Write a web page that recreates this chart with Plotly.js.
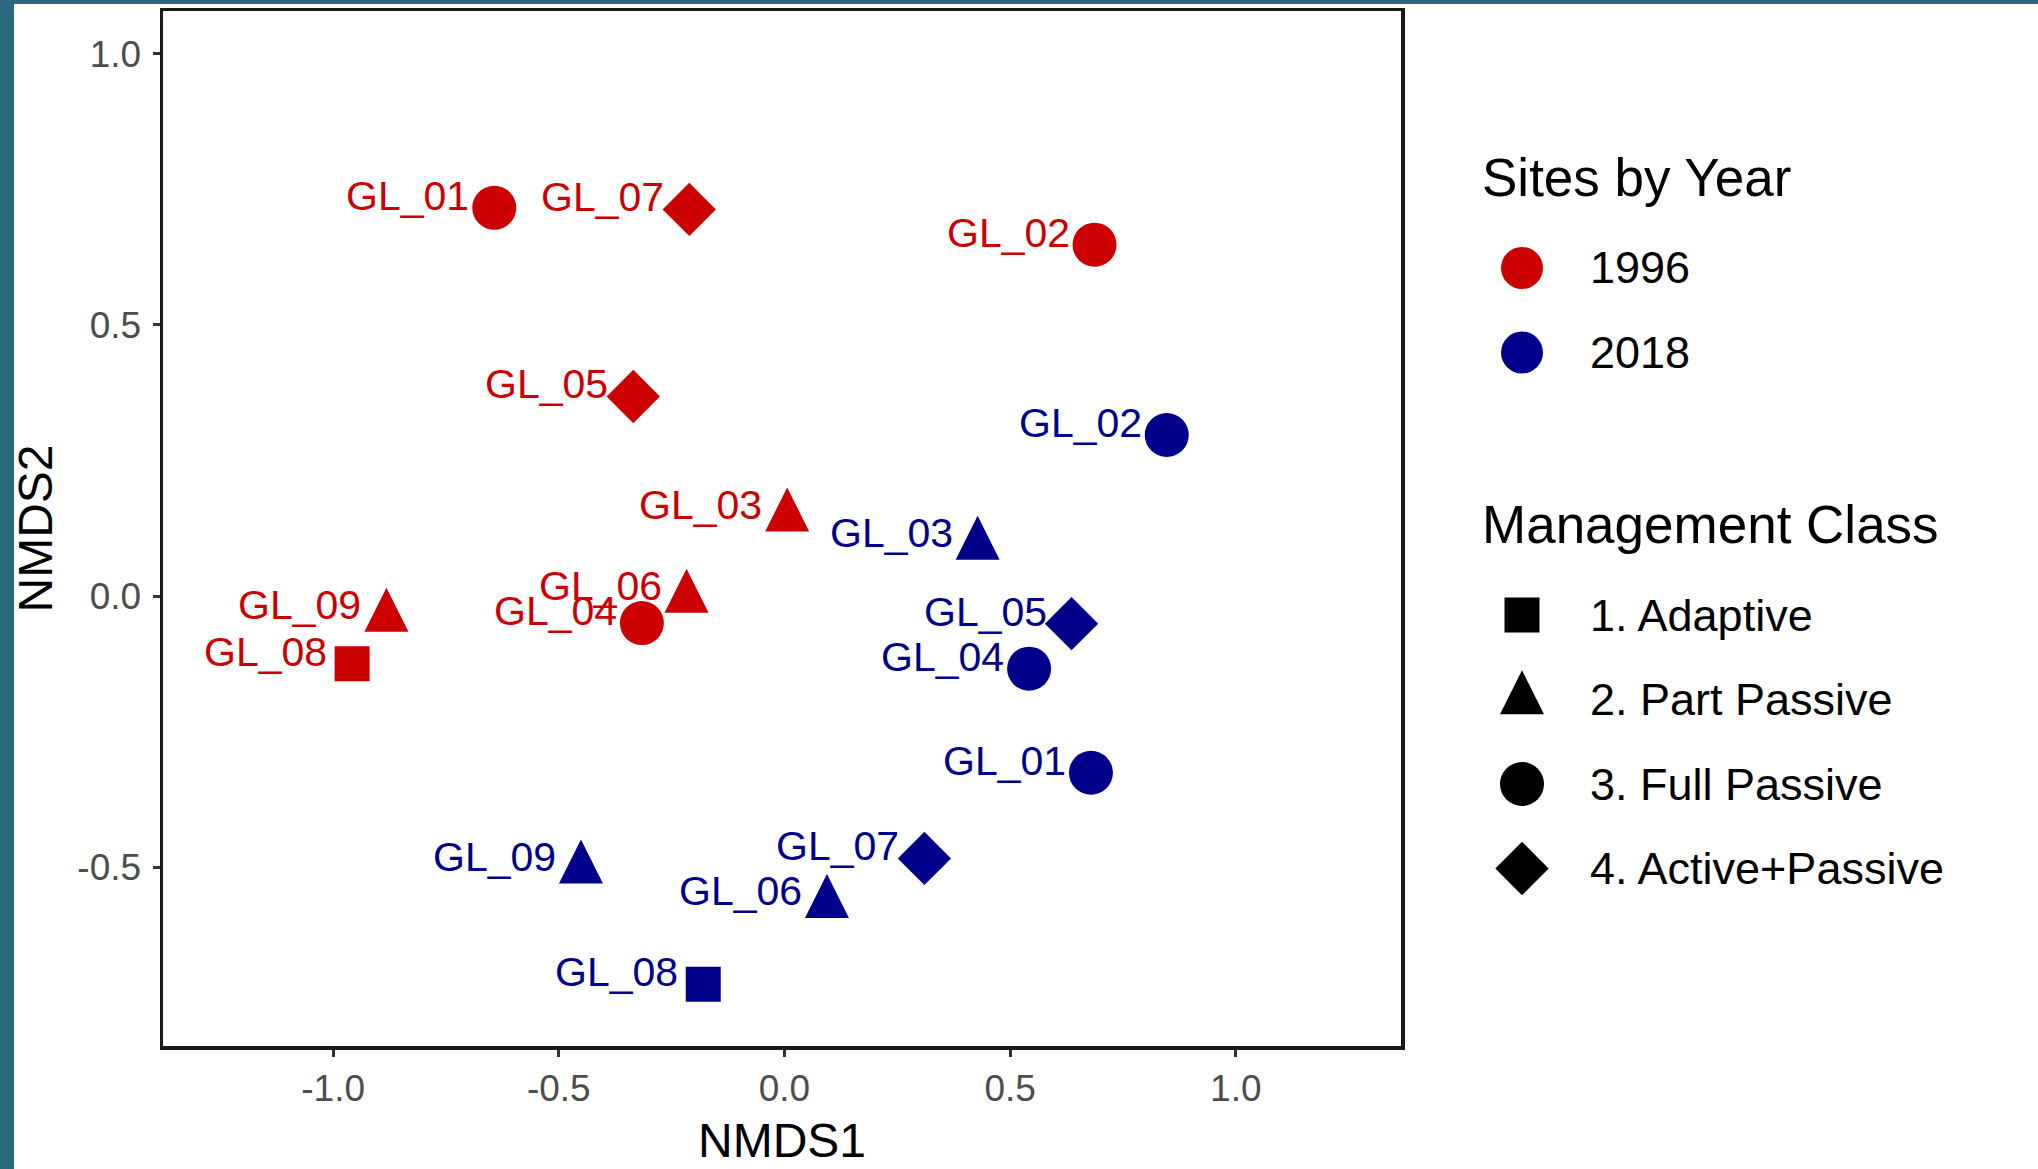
<!DOCTYPE html>
<html>
<head>
<meta charset="utf-8">
<script src="https://cdn.plot.ly/plotly-3.0.1.min.js"></script>
<style>
  html, body { margin: 0; padding: 0; background: #ffffff; }
  #chart { width: 2038px; height: 1169px; }
</style>
</head>
<body>
<div id="chart"></div>
<script>
// ---------------- DATA ----------------
const sites = ['GL_01', 'GL_02', 'GL_03', 'GL_04', 'GL_05', 'GL_06', 'GL_07', 'GL_08', 'GL_09'];
// management class per site (1 Adaptive, 2 Part Passive, 3 Full Passive, 4 Active+Passive)
const managementClass = [3, 3, 2, 3, 4, 2, 4, 1, 2];

const years = ['1996', '2018'];
const nmds1_1996 = [-0.643, 0.687, 0.006, -0.316, -0.335, -0.217, -0.211, -0.958, -0.882];
const nmds2_1996 = [0.716, 0.648, 0.146, -0.050, 0.368, -0.004, 0.713, -0.125, -0.039];
const nmds1_2018 = [0.679, 0.847, 0.428, 0.542, 0.636, 0.094, 0.310, -0.180, -0.451];
const nmds2_2018 = [-0.326, 0.297, 0.094, -0.134, -0.051, -0.567, -0.484, -0.716, -0.503];

const classLabels = ['1. Adaptive', '2. Part Passive', '3. Full Passive', '4. Active+Passive'];

const xTickVals = [-1.0, -0.5, 0.0, 0.5, 1.0];
const xTickText = ['-1.0', '-0.5', '0.0', '0.5', '1.0'];
const yTickVals = [-0.5, 0.0, 0.5, 1.0];
const yTickText = ['-0.5', '0.0', '0.5', '1.0'];

// ---------------- STYLE ----------------
const W = 2038, H = 1169;
const FONT = '"Liberation Sans", Arial, Helvetica, sans-serif';
const yearColors = { '1996': '#cc0000', '2018': '#00008b' };
// marker style per management class (index 0..3 -> class 1..4)
const classSymbols = ['square', 'arrow-down', 'circle', 'diamond'];
const classSizes = [35, 44, 44, 41];
const classAngles = [0, 180, 0, 0];
const classStandoff = [0, 44 * 2 / 3, 0, 0];   // centres the triangle on its centroid
const teal = '#2a6880';

const plotL = 163, plotR = 1401, plotT = 11, plotB = 1046;

const seriesX = { '1996': nmds1_1996, '2018': nmds1_2018 };
const seriesY = { '1996': nmds2_1996, '2018': nmds2_2018 };

function styleFor(classes, key) {
  const arr = { symbol: classSymbols, size: classSizes, angle: classAngles, standoff: classStandoff }[key];
  return classes.map(c => arr[c - 1]);
}

const traces = [];
const annotations = [];

years.forEach(yr => {
  traces.push({
    type: 'scatter', mode: 'markers',
    x: seriesX[yr], y: seriesY[yr], text: sites,
    name: yr, showlegend: false, hoverinfo: 'text+x+y',
    marker: {
      color: yearColors[yr], opacity: 1,
      symbol: styleFor(managementClass, 'symbol'),
      size: styleFor(managementClass, 'size'),
      angle: styleFor(managementClass, 'angle'),
      standoff: styleFor(managementClass, 'standoff'),
      line: { width: 0 }
    },
    xaxis: 'x', yaxis: 'y'
  });
  sites.forEach((s, i) => {
    annotations.push({
      xref: 'x', yref: 'y', x: seriesX[yr][i], y: seriesY[yr][i],
      text: s, showarrow: false, xanchor: 'right', yanchor: 'middle',
      xshift: -24, yshift: 12, borderpad: 0,
      font: { family: FONT, size: 41, color: yearColors[yr] }
    });
  });
});

// ---------------- LEGEND (drawn on hidden pixel-scaled axes) ----------------
const legX0 = 1450;
const legMarkerX = 1522, legTextX = 1589;
const yearTitleY = 177, classTitleY = 524, firstRowOffset = 91, rowStep = 84.5;

const yearRows = years.map((_, i) => yearTitleY + firstRowOffset + i * rowStep);
const classRows = classLabels.map((_, i) => classTitleY + firstRowOffset + i * rowStep);

traces.push({
  type: 'scatter', mode: 'markers', xaxis: 'x2', yaxis: 'y2',
  x: years.map(() => legMarkerX), y: yearRows, hoverinfo: 'skip', showlegend: false,
  marker: { color: years.map(y => yearColors[y]), opacity: 1, symbol: 'circle', size: 42, line: { width: 0 } }
});
const classIdx = classLabels.map((_, i) => i + 1);
traces.push({
  type: 'scatter', mode: 'markers', xaxis: 'x2', yaxis: 'y2',
  x: classLabels.map(() => legMarkerX), y: classRows, hoverinfo: 'skip', showlegend: false,
  marker: {
    color: '#000000', opacity: 1,
    symbol: styleFor(classIdx, 'symbol'),
    size: styleFor(classIdx, 'size'),
    angle: styleFor(classIdx, 'angle'),
    standoff: styleFor(classIdx, 'standoff'),
    line: { width: 0 }
  }
});

function legendText(text, px, py, size) {
  annotations.push({
    xref: 'paper', yref: 'paper', x: px / W, y: 1 - py / H,
    text: text, showarrow: false, xanchor: 'left', yanchor: 'middle', borderpad: 0,
    font: { family: FONT, size: size, color: '#000000' }
  });
}
legendText('Sites by Year', 1481, yearTitleY, 53);
years.forEach((y, i) => legendText(y, legTextX, yearRows[i], 45));
legendText('Management Class', 1481, classTitleY, 53);
classLabels.forEach((c, i) => legendText(c, legTextX, classRows[i], 45));

// ---------------- LAYOUT ----------------
const axisCommon = {
  showgrid: false, zeroline: false,
  showline: true, mirror: true, linecolor: '#1a1a1a', linewidth: 3.5,
  ticks: 'outside', ticklen: 7, tickwidth: 3, tickcolor: '#333333',
  tickfont: { family: FONT, size: 37, color: '#4d4d4d' },
  fixedrange: true
};

const layout = {
  width: W, height: H,
  margin: { l: 0, r: 0, t: 0, b: 0 },
  paper_bgcolor: '#ffffff', plot_bgcolor: 'rgba(0,0,0,0)',
  font: { family: FONT },
  showlegend: false,
  xaxis: Object.assign({}, axisCommon, {
    domain: [plotL / W, plotR / W], range: [-1.377, 1.366], anchor: 'y',
    tickmode: 'array', tickvals: xTickVals, ticktext: xTickText,
    ticklabelstandoff: 0,
    title: { text: 'NMDS1', font: { family: FONT, size: 48, color: '#000000' }, standoff: 16 }
  }),
  yaxis: Object.assign({}, axisCommon, {
    domain: [1 - plotB / H, 1 - plotT / H], range: [-0.830, 1.079], anchor: 'x',
    tickmode: 'array', tickvals: yTickVals, ticktext: yTickText,
    ticklabelstandoff: 4,
    title: { text: 'NMDS2', font: { family: FONT, size: 48, color: '#000000' }, standoff: 10 }
  }),
  xaxis2: { domain: [legX0 / W, 1], range: [legX0, W], visible: false, fixedrange: true, anchor: 'y2' },
  yaxis2: { domain: [0, 1], range: [H, 0], visible: false, fixedrange: true, anchor: 'x2' },
  shapes: [
    { type: 'rect', xref: 'paper', yref: 'paper', x0: 0, x1: 14 / W, y0: 0, y1: 1,
      fillcolor: teal, line: { width: 0 }, layer: 'below' },
    { type: 'rect', xref: 'paper', yref: 'paper', x0: 0, x1: 1, y0: 1 - 4 / H, y1: 1,
      fillcolor: teal, line: { width: 0 }, layer: 'below' }
  ],
  annotations: annotations
};

Plotly.newPlot('chart', traces, layout, { displayModeBar: false, staticPlot: true });
</script>
</body>
</html>
